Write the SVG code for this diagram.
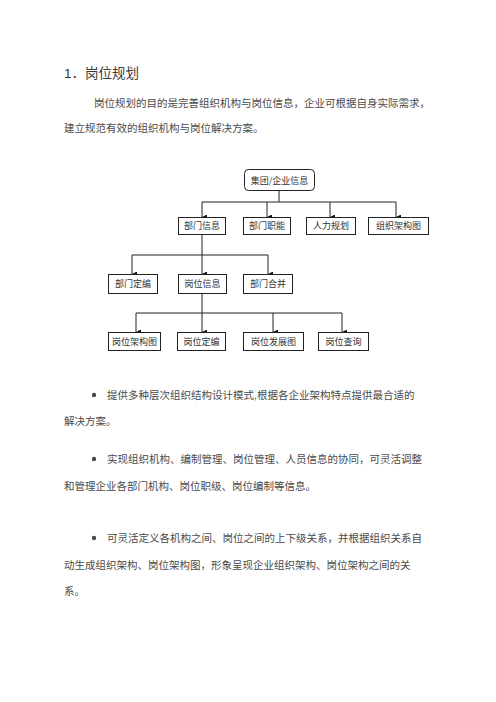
<svg xmlns="http://www.w3.org/2000/svg" width="496" height="702" viewBox="0 0 496 702">
<defs>
<style>
.t{font-family:"Liberation Sans","Noto Sans CJK SC",sans-serif;fill:#4a4a4a;font-size:10.5px}
.h{font-family:"Liberation Sans","Noto Sans CJK SC",sans-serif;fill:#3a3a3a;font-size:13.5px}
.b rect{fill:#fff;stroke:#222;stroke-width:1}
.b text{font-family:"Noto Sans CJK SC",sans-serif;font-size:9px;fill:#333;text-anchor:middle}
.c line{stroke:#222;stroke-width:1}
</style>
<marker id="a" viewBox="0 0 6 6" refX="3" refY="6" markerWidth="5" markerHeight="5" orient="auto-start-reverse" markerUnits="userSpaceOnUse">
<path d="M0,0 L6,0 L3,6 Z" fill="#111"/>
</marker>
</defs>
<rect width="496" height="702" fill="#fff"/>
<text class="h" x="64" y="78">1．岗位规划</text>
<text class="t" x="94" y="107">岗位规划的目的是完善组织机构与岗位信息，企业可根据自身实际需求，</text>
<text class="t" x="64" y="132">建立规范有效的组织机构与岗位解决方案。</text>

<g class="c">
<line x1="279" y1="190" x2="279" y2="202"/>
<line x1="202" y1="202" x2="396" y2="202"/>
<line x1="202" y1="202" x2="202" y2="217" marker-end="url(#a)"/>
<line x1="267" y1="202" x2="267" y2="217" marker-end="url(#a)"/>
<line x1="330" y1="202" x2="330" y2="217" marker-end="url(#a)"/>
<line x1="396" y1="202" x2="396" y2="217" marker-end="url(#a)"/>
<line x1="202" y1="234" x2="202" y2="255"/>
<line x1="132" y1="255" x2="268" y2="255"/>
<line x1="132" y1="255" x2="132" y2="274" marker-end="url(#a)"/>
<line x1="202" y1="255" x2="202" y2="274" marker-end="url(#a)"/>
<line x1="268" y1="255" x2="268" y2="274" marker-end="url(#a)"/>
<line x1="202" y1="293" x2="202" y2="313"/>
<line x1="136" y1="313" x2="342" y2="313"/>
<line x1="136" y1="313" x2="136" y2="332" marker-end="url(#a)"/>
<line x1="202" y1="313" x2="202" y2="332" marker-end="url(#a)"/>
<line x1="273" y1="313" x2="273" y2="332" marker-end="url(#a)"/>
<line x1="342" y1="313" x2="342" y2="332" marker-end="url(#a)"/>
</g>

<g id="root" class="b"><rect x="244.5" y="169.5" width="70" height="21" rx="4"/><text x="279.5" y="183.5">集团/企业信息</text></g>
<g id="n1" class="b"><rect x="178.5" y="217.5" width="47" height="17"/><text x="202" y="229">部门信息</text></g>
<g id="n2" class="b"><rect x="243.5" y="217.5" width="47" height="17"/><text x="267" y="229">部门职能</text></g>
<g id="n3" class="b"><rect x="306.5" y="217.5" width="49" height="17"/><text x="331" y="229">人力规划</text></g>
<g id="n4" class="b"><rect x="368.5" y="217.5" width="60" height="17"/><text x="398.5" y="229">组织架构图</text></g>
<g id="n5" class="b"><rect x="108.5" y="274.5" width="49" height="19"/><text x="133" y="287">部门定编</text></g>
<g id="n6" class="b"><rect x="178.5" y="274.5" width="48" height="19"/><text x="202.5" y="287">岗位信息</text></g>
<g id="n7" class="b"><rect x="243.5" y="274.5" width="49" height="19"/><text x="268" y="287">部门合并</text></g>
<g id="n8" class="b"><rect x="108.5" y="332.5" width="52" height="18"/><text x="134.5" y="344.5">岗位架构图</text></g>
<g id="n9" class="b"><rect x="177.5" y="332.5" width="48" height="18"/><text x="201.5" y="344.5">岗位定编</text></g>
<g id="n10" class="b"><rect x="243.5" y="332.5" width="60" height="18"/><text x="273.5" y="344.5">岗位发展图</text></g>
<g id="n11" class="b"><rect x="318.5" y="332.5" width="50" height="18"/><text x="343.5" y="344.5">岗位查询</text></g>

<circle cx="94" cy="395" r="2.2" fill="#4a4a4a"/>
<text class="t" x="107" y="399">提供多种层次组织结构设计模式,根据各企业架构特点提供最合适的</text>
<text class="t" x="64" y="425">解决方案。</text>
<circle cx="94" cy="459" r="2.2" fill="#4a4a4a"/>
<text class="t" x="107" y="463">实现组织机构、编制管理、岗位管理、人员信息的协同，可灵活调整</text>
<text class="t" x="64" y="490">和管理企业各部门机构、岗位职级、岗位编制等信息。</text>
<circle cx="94" cy="538" r="2.2" fill="#4a4a4a"/>
<text class="t" x="107" y="542">可灵活定义各机构之间、岗位之间的上下级关系，并根据组织关系自</text>
<text class="t" x="64" y="569">动生成组织架构、岗位架构图，形象呈现企业组织架构、岗位架构之间的关</text>
<text class="t" x="64" y="595">系。</text>
</svg>
